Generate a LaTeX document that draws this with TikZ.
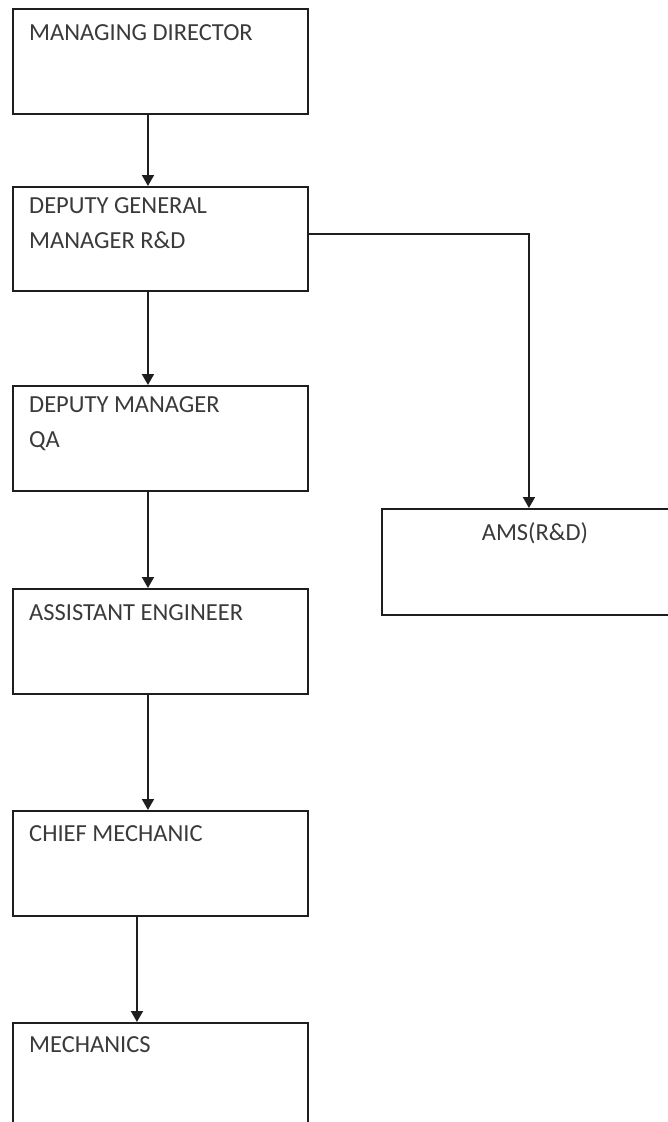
\documentclass[tikz,border=0pt]{standalone}
\usepackage{fontspec}
\setmainfont{Carlito}
\usetikzlibrary{arrows.meta}
\definecolor{ink}{HTML}{1E1E1E}
\definecolor{txt}{HTML}{3A3A3A}
\begin{document}
\begin{tikzpicture}[x=1pt,y=-1pt,
  box/.style={draw=ink,line width=1.9pt,rectangle,inner sep=0pt,anchor=north west,minimum width=295pt},
  lbl/.style={anchor=base west,inner sep=0pt,text=txt,font=\fontsize{24.5}{28}\selectfont},
  arr/.style={draw=ink,line width=1.9pt,-{Triangle[width=12pt,length=11pt]}}]
\useasboundingbox (0,0) rectangle (668,1122);
% boxes
\node[box,minimum height=105pt] (md)   at (12,8)    {};
\node[box,minimum height=104pt] (dgm)  at (12,186)  {};
\node[box,minimum height=105pt] (dmqa) at (12,385)  {};
\node[box,minimum height=105pt] (ae)   at (12,588)  {};
\node[box,minimum height=105pt] (cm)   at (12,810)  {};
\node[box,minimum height=115pt] (mech) at (12,1022) {};
\node[box,minimum width=294pt,minimum height=106pt] (ams) at (381,508) {};
% labels
\node[lbl] (tmd)   at (29,40)   {MANAGING DIRECTOR};
\node[lbl] (tdgm1) at (29,213)  {DEPUTY GENERAL};
\node[lbl] (tdgm2) at (29,248)  {MANAGER R\&D};
\node[lbl] (tdm1)  at (29,412)  {DEPUTY MANAGER};
\node[lbl] (tdm2)  at (29,447)  {QA};
\node[lbl] (tae)   at (29,620)  {ASSISTANT ENGINEER};
\node[lbl] (tcm)   at (29,841)  {CHIEF MECHANIC};
\node[lbl] (tmech) at (29,1052) {MECHANICS};
\node[lbl,anchor=base] (tams) at (535,540) {AMS(R\&D)};
% connectors
\draw[arr] ([xshift=-12.5pt]md.south)   -- ([xshift=-12.5pt]dgm.north);
\draw[arr] ([xshift=-12.5pt]dgm.south)  -- ([xshift=-12.5pt]dmqa.north);
\draw[arr] ([xshift=-12.5pt]dmqa.south) -- ([xshift=-12.5pt]ae.north);
\draw[arr] ([xshift=-12.5pt]ae.south)   -- ([xshift=-12.5pt]cm.north);
\draw[arr] ([xshift=-23.5pt]cm.south)   -- ([xshift=-23.5pt]mech.north);
\draw[arr] ([yshift=5pt]dgm.east) -| (ams.north);
\end{tikzpicture}
\end{document}
